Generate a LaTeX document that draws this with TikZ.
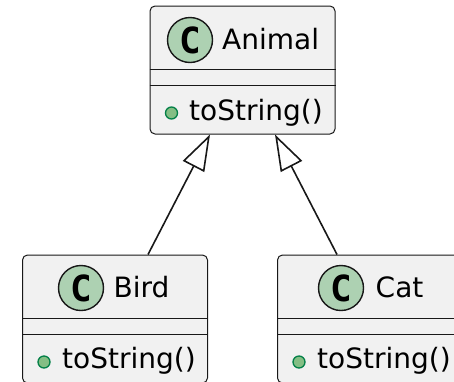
\documentclass[tikz,border=0pt]{standalone}
\usepackage{fontspec}
\setmainfont{DejaVu Sans}
\newfontfamily\markfont{DejaVu Sans Mono}
\usepackage{tikz}
\usetikzlibrary{arrows.meta}
\usepackage{xcolor}
\definecolor{boxfill}{HTML}{F1F1F1}
\definecolor{boxline}{HTML}{181818}
\definecolor{markfill}{HTML}{ADD1B2}
\definecolor{dotfill}{HTML}{84BE84}
\definecolor{dotline}{HTML}{038048}

\begin{document}
\begin{tikzpicture}[x=1pt,y=-1pt]
  \tikzset{classbox/.style={rectangle,rounded corners=5pt,draw=boxline,fill=boxfill,line width=1pt,minimum width=185pt,minimum height=128pt,inner sep=0pt}}
  \tikzset{classmark/.style={circle,draw=boxline,fill=markfill,line width=1.4pt,minimum size=45pt,inner sep=0pt,font=\markfont\bfseries\fontsize{36}{36}\selectfont}}
  \tikzset{classname/.style={anchor=base west,inner sep=0pt,font=\fontsize{28}{34}\selectfont}}
  \tikzset{memberdot/.style={circle,draw=dotline,fill=dotfill,line width=1.3pt,minimum size=12pt,inner sep=0pt}}
  \tikzset{membertext/.style={anchor=base west,inner sep=0pt,font=\fontsize{28}{34}\selectfont}}
  \tikzset{sepline/.style={draw=boxline,line width=1pt}}
  \tikzset{extends/.style={draw=boxline,line width=1.6pt,-{Triangle[open,length=36pt,width=24pt]}}}
  \useasboundingbox (0,0) rectangle (454,381);
  % class boxes
  \node[classbox] (animal) at (242.5,70) {};
  \node[classbox] (bird) at (115,319) {};
  \node[classbox] (cat) at (370,319) {};
  % compartments
  \foreach \cls in {animal,bird,cat} {
    \draw[sepline] ([yshift=-64pt]\cls.north west) -- ([yshift=-64pt]\cls.north east);
    \draw[sepline] ([yshift=-80pt]\cls.north west) -- ([yshift=-80pt]\cls.north east);
  }
  % headers
  \node[classmark] (animalmark) at (190,40) {C};
  \node[classname] (animalname) at (222,49) {Animal};
  \node[classmark] (birdmark) at (81,288) {C};
  \node[classname] (birdname) at (113.5,297) {Bird};
  \node[classmark] (catmark) at (341,288) {C};
  \node[classname] (catname) at (375.5,297) {Cat};
  % members
  \node[memberdot] (animaldot) at (171.5,113) {};
  \node[membertext] (animalop) at (189,120) {toString()};
  \node[memberdot] (birddot) at (44,362) {};
  \node[membertext] (birdop) at (62,368) {toString()};
  \node[memberdot] (catdot) at (299,362) {};
  \node[membertext] (catop) at (317,368) {toString()};
  % generalisations
  \draw[extends] ([xshift=33pt]bird.north) -- ([xshift=-32.5pt]animal.south);
  \draw[extends] ([xshift=-33pt]cat.north) -- ([xshift=32.5pt]animal.south);
\end{tikzpicture}
\end{document}
